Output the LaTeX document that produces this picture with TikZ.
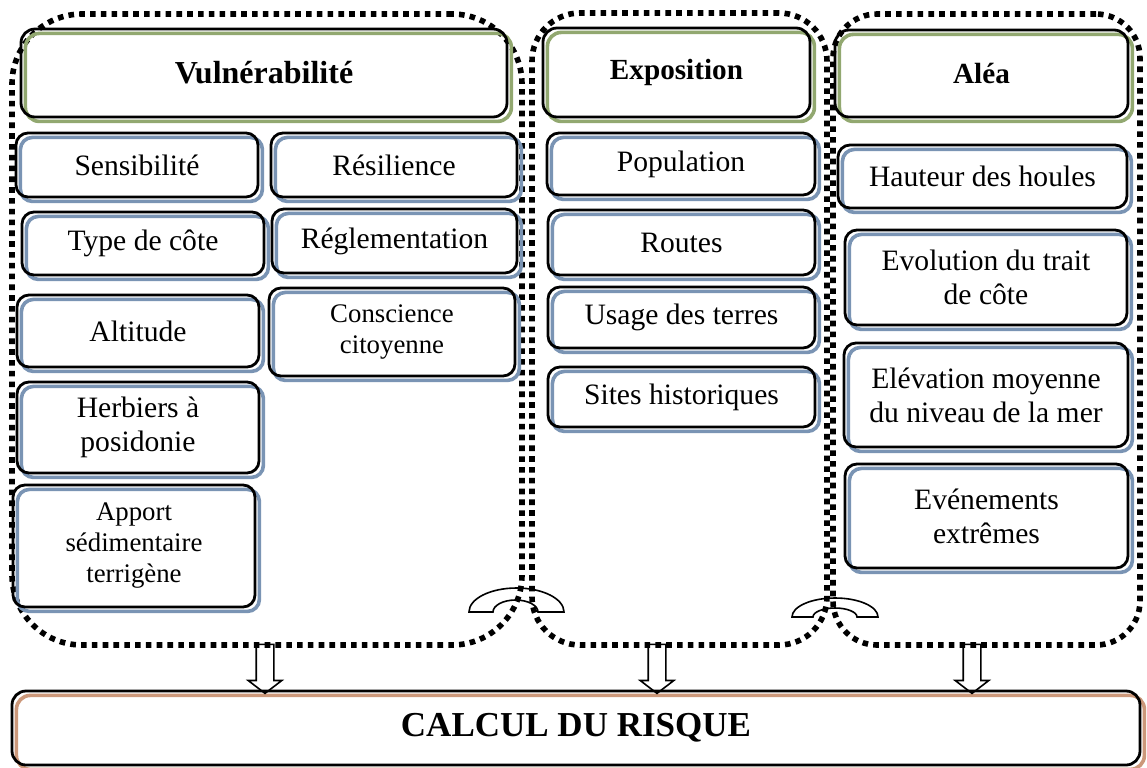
\documentclass[tikz,border=0pt]{standalone}
\usepackage{fontspec}
\setmainfont{Liberation Serif}
\usetikzlibrary{shapes.arrows}
\definecolor{vert}{RGB}{146,168,112}
\definecolor{bleu}{RGB}{122,148,180}
\definecolor{brique}{RGB}{204,152,122}
\tikzstyle{grp}=[draw=black, line width=2.8pt, dash pattern=on 2.8pt off 2.6pt, rounded corners=30pt, inner sep=0pt]
\tikzstyle{tete}=[draw=black, line width=1.4pt, rounded corners=7pt, inner sep=0pt, font=\fontsize{14.6}{17}\selectfont\bfseries, preaction={draw=vert, line width=1.8pt, transform canvas={shift={(2.2pt,-2.2pt)}}}]
\tikzstyle{crit}=[draw=black, line width=1.4pt, rounded corners=6pt, inner sep=0pt, align=center, font=\fontsize{14.8}{17}\selectfont, preaction={draw=bleu, line width=1.8pt, transform canvas={shift={(2.2pt,-2.2pt)}}}]
\tikzstyle{petit}=[font=\fontsize{13.4}{15.5}\selectfont]
\tikzstyle{total}=[draw=black, line width=1.4pt, rounded corners=7pt, inner sep=0pt, font=\fontsize{17.5}{20}\selectfont\bfseries, preaction={draw=brique, line width=1.8pt, transform canvas={shift={(2.2pt,-2.2pt)}}}]
\tikzstyle{fleche}=[single arrow, draw=black, line width=0.8pt, rotate=-90, minimum height=24.5pt, minimum width=16pt, single arrow head extend=4pt, single arrow tip angle=105, inner sep=4pt]
\tikzstyle{anse}=[draw=black, line width=0.8pt]

\begin{document}
\begin{tikzpicture}[x=0.5pt, y=-0.5pt]
		\useasboundingbox (0,0) rectangle (1147,767);
		\fill[white] (0,0) rectangle (1147,767);

		% groupes
		\node [style=grp, minimum width=255pt, minimum height=315.5pt, rounded corners=35pt] (100) at (267,329.5) {};
		\node [style=grp, minimum width=147.5pt, minimum height=316pt, rounded corners=24pt] (200) at (679.5,329) {};
		\node [style=grp, minimum width=153.5pt, minimum height=315.5pt, rounded corners=22pt] (300) at (986.5,329.5) {};

		\node [style=tete, minimum width=243pt, minimum height=44pt, font=\fontsize{16}{19}\selectfont\bfseries] (1) at (264,73) {Vulnérabilité};
		\node [style=tete, minimum width=133.5pt, minimum height=44.5pt] (2) at (676.5,72.5) {Exposition};
		\node [style=tete, minimum width=146.5pt, minimum height=43.5pt] (3) at (981.5,73.5) {Aléa};

		\node [style=crit, minimum width=121pt, minimum height=32pt] (11) at (137,165) {Sensibilité};
		\node [style=crit, minimum width=121pt, minimum height=31.5pt] (12) at (143,243.5) {Type de côte};
		\node [style=crit, minimum width=121pt, minimum height=36pt] (13) at (138,331) {Altitude};
		\node [style=crit, minimum width=121pt, minimum height=45.5pt] (14) at (138,427.5) {Herbiers à\\posidonie};
		\node [style=crit, petit, minimum width=121pt, minimum height=61pt] (15) at (134,546) {Apport\\sédimentaire\\terrigène};

		\node [style=crit, minimum width=123pt, minimum height=32pt] (16) at (394,165) {Résilience};
		\node [style=crit, minimum width=122.5pt, minimum height=32pt] (17) at (394.5,241) {Réglementation};
		\node [style=crit, petit, minimum width=123pt, minimum height=44pt] (18) at (392,332) {Conscience\\citoyenne};

		\node [style=crit, minimum width=134pt, minimum height=31pt] (21) at (681,164) {Population};
		\node [style=crit, minimum width=133.5pt, minimum height=32.5pt] (22) at (681.5,242.5) {Routes};
		\node [style=crit, minimum width=133.5pt, minimum height=30.5pt] (23) at (681.5,317.5) {Usage des terres};
		\node [style=crit, minimum width=133.5pt, minimum height=30pt] (24) at (681.5,397) {Sites historiques};

		\node [style=crit, minimum width=144.5pt, minimum height=31.5pt] (31) at (982.5,176.5) {Hauteur des houles};
		\node [style=crit, minimum width=141pt, minimum height=47.5pt] (32) at (986,277.5) {Evolution du trait\\de côte};
		\node [style=crit, minimum width=142pt, minimum height=52pt] (33) at (986,395) {Elévation moyenne\\du niveau de la mer};
		\node [style=crit, minimum width=141.5pt, minimum height=52pt] (34) at (986.5,516) {Evénements\\extrêmes};

		\node [style=total, minimum width=564pt, minimum height=37pt] (0) at (576,728) {CALCUL DU RISQUE};

		\node [style=fleche] (101) at (265,665.5) {};
		\node [style=fleche] (201) at (657,665.5) {};
		\node [style=fleche] (301) at (972,665.5) {};

		\draw [style=anse] (469,612) arc [start angle=180, end angle=360, x radius=47.5, y radius=24] -- (538,612) arc [start angle=0, end angle=-180, x radius=22.5, y radius=12] -- cycle;
		\draw [style=anse] (792,617) arc [start angle=180, end angle=360, x radius=43, y radius=19] -- (857,617) arc [start angle=0, end angle=-180, x radius=22, y radius=9] -- cycle;
	\end{tikzpicture}
\end{document}
